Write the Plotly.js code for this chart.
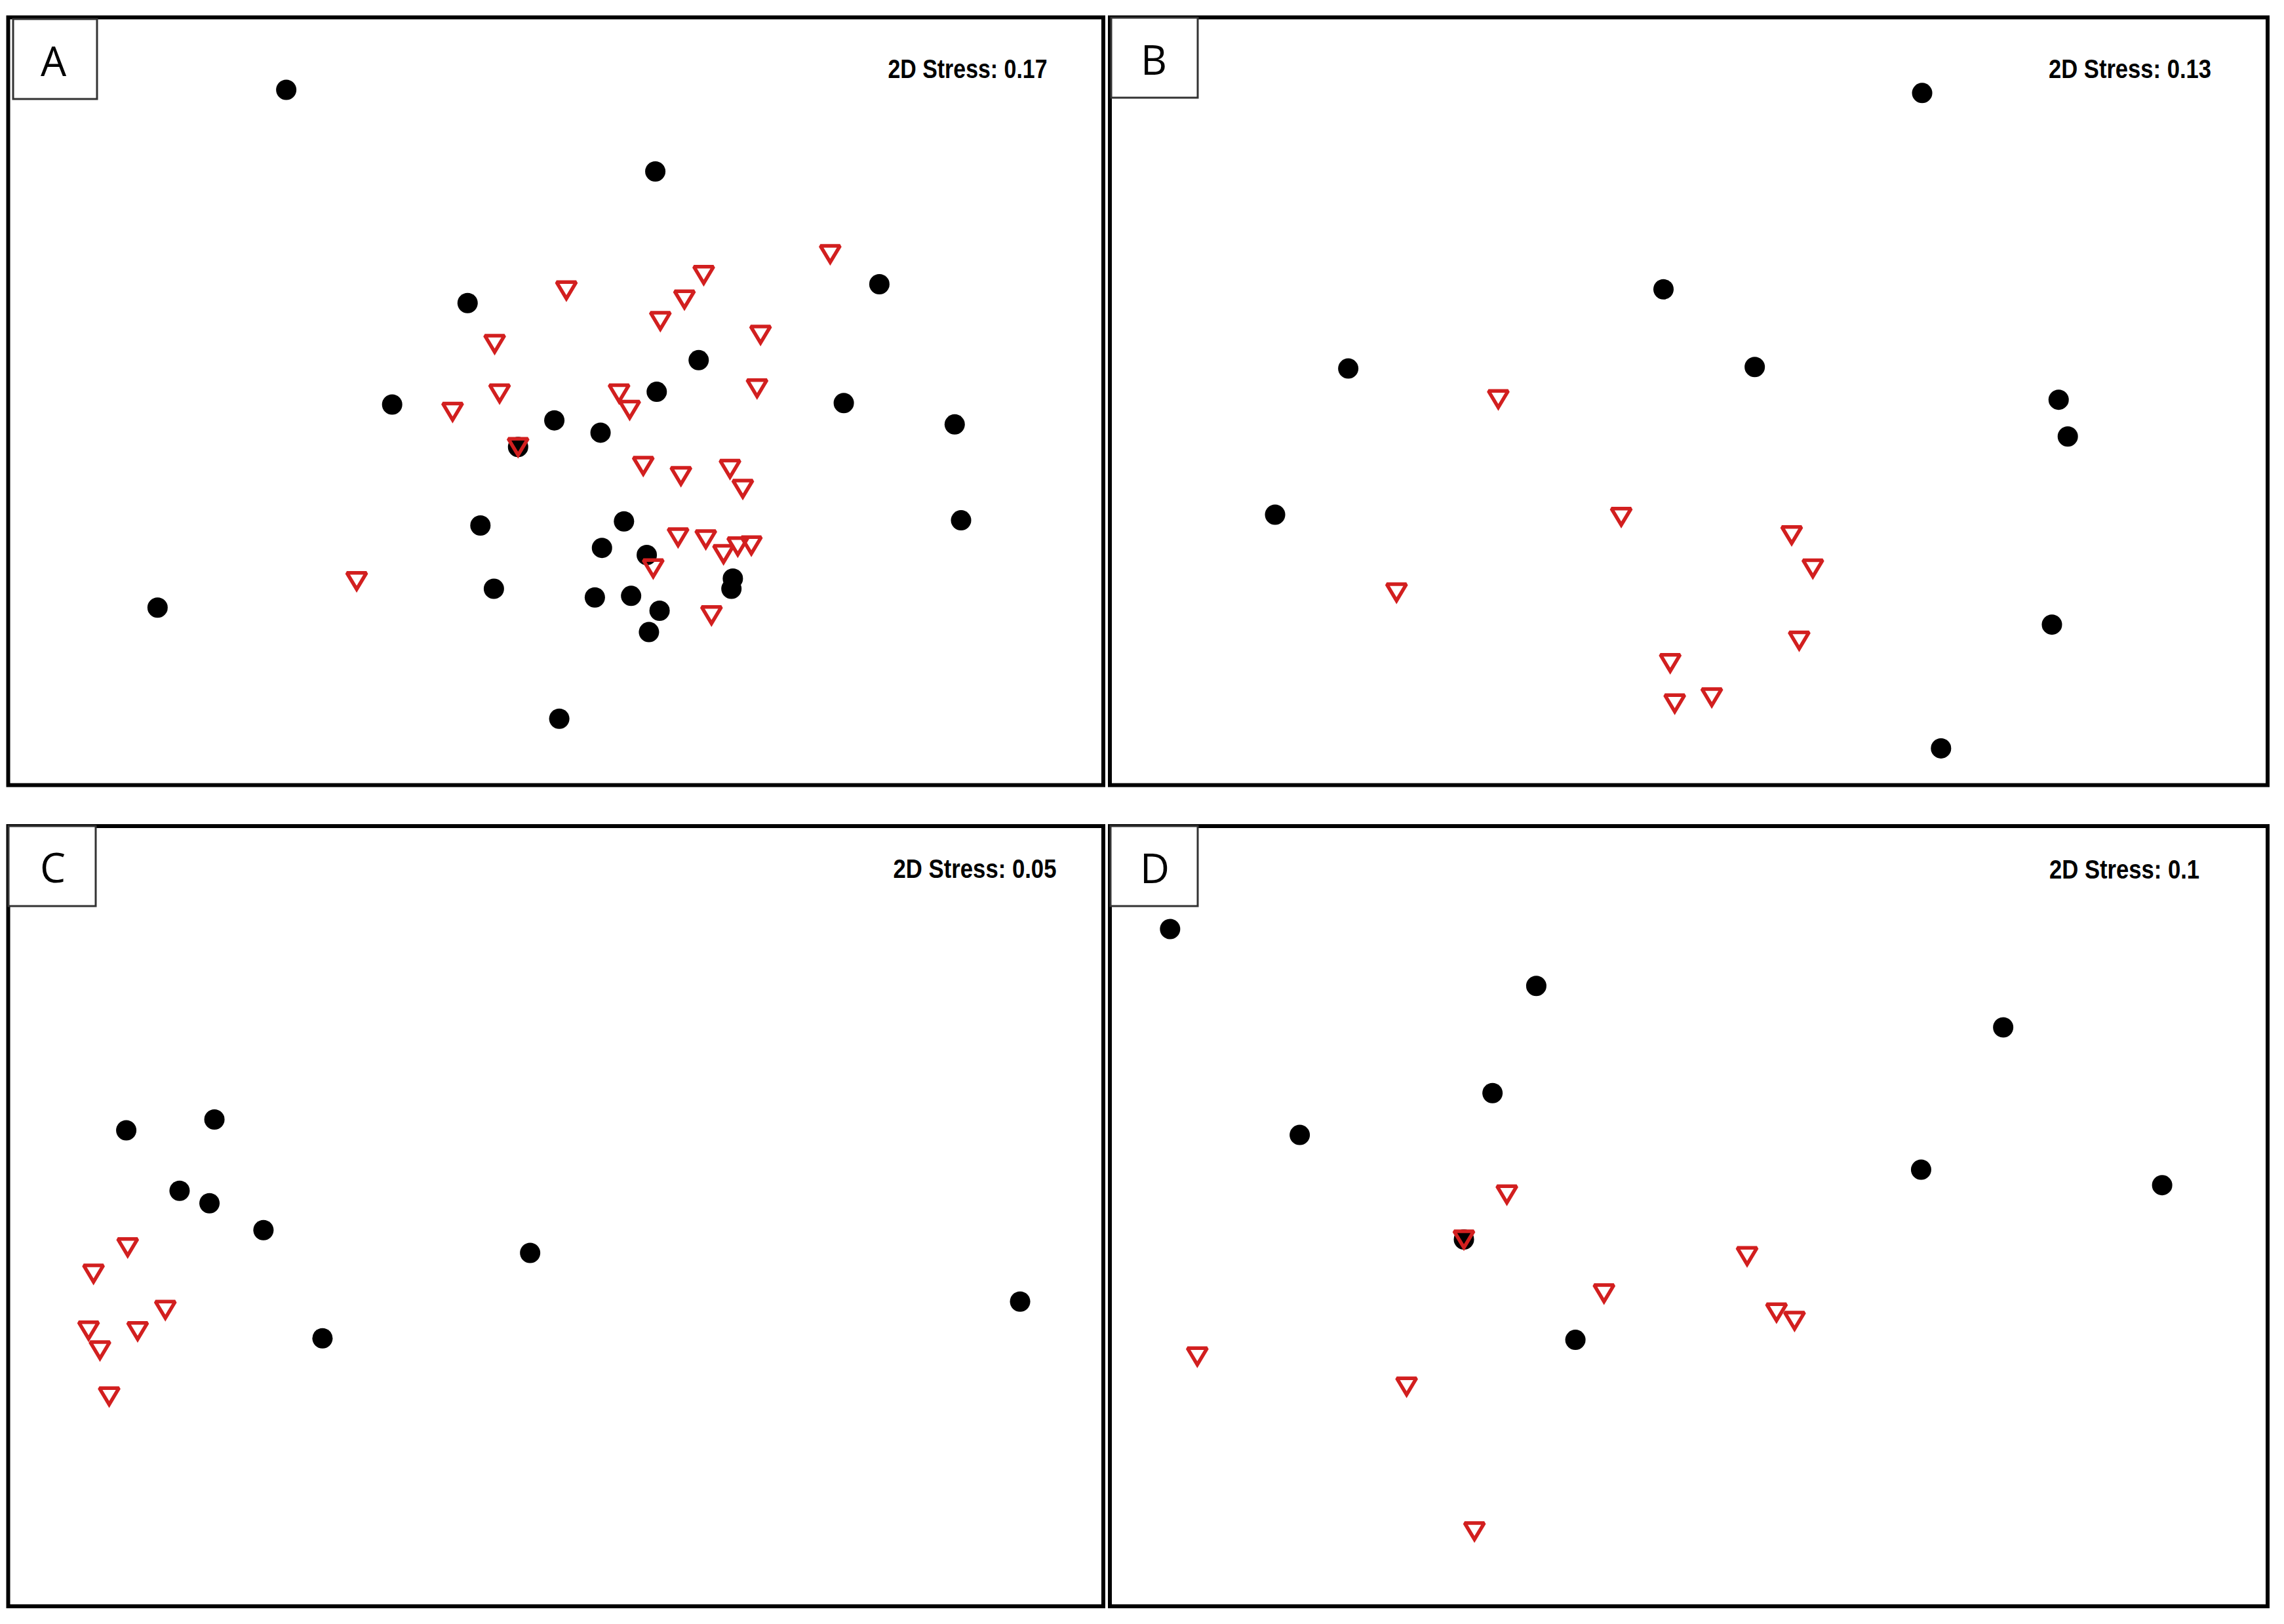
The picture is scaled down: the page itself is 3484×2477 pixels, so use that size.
<!DOCTYPE html>
<html>
<head>
<meta charset="utf-8">
<script src="https://cdn.plot.ly/plotly-3.0.1.min.js"></script>
<style>
html,body{margin:0;padding:0;background:#fff;}
#chart{width:3484px;height:2477px;}
</style>
</head>
<body>
<div id="chart"></div>
<script>
// ---- data (NMDS ordination positions, 0-100 scale per panel) ----
const panelLabels = ["A", "B", "C", "D"];
const stressValues = ["0.17", "0.13", "0.05", "0.1"];

const A_circle_x = [25.39, 59.09, 79.55, 41.95, 63.05, 59.22, 35.06, 76.30, 49.87, 54.09, 86.43, 46.56, 43.12, 56.23, 87.01, 54.22, 58.31, 66.17, 66.04, 44.35, 53.57, 56.88, 59.48, 58.51, 13.64, 50.32];
const A_circle_y = [90.56, 79.93, 65.25, 62.79, 55.35, 51.23, 49.57, 49.77, 47.51, 45.91, 46.98, 44.05, 33.82, 34.35, 34.49, 30.90, 29.97, 26.91, 25.58, 25.58, 24.45, 24.65, 22.72, 19.93, 23.12, 8.64];
const A_tri_x = [75.06, 63.51, 50.97, 61.75, 59.55, 68.70, 44.42, 44.87, 55.78, 68.38, 40.58, 56.75, 46.56, 57.99, 61.43, 65.91, 67.08, 61.17, 63.70, 65.32, 66.62, 67.86, 58.90, 31.82, 64.22];
const A_tri_y = [69.17, 66.45, 64.45, 63.26, 60.47, 58.67, 57.48, 51.03, 51.03, 51.69, 48.64, 48.90, 44.05, 41.59, 40.27, 41.20, 38.60, 32.29, 32.03, 30.10, 31.10, 31.23, 28.24, 26.58, 22.13];

const B_circle_x = [70.16, 47.82, 20.59, 55.70, 81.95, 82.74, 14.27, 81.37, 71.79];
const B_circle_y = [90.15, 64.58, 54.26, 54.46, 50.20, 45.41, 35.22, 20.91, 4.79];
const B_tri_x = [33.55, 44.17, 58.89, 60.72, 24.76, 59.54, 48.40, 51.99, 48.79];
const B_tri_y = [50.27, 34.95, 32.56, 28.23, 25.10, 18.84, 15.91, 11.45, 10.65];

const C_circle_x = [10.78, 18.83, 15.65, 18.38, 23.31, 47.66, 92.40, 28.70];
const C_circle_y = [61.01, 62.40, 53.25, 51.66, 48.21, 45.29, 39.06, 34.35];
const C_tri_x = [10.91, 7.79, 14.35, 7.34, 11.82, 8.38, 9.22];
const C_tri_y = [46.02, 42.64, 38.00, 35.35, 35.28, 32.82, 26.92];

const D_circle_x = [5.20, 36.83, 77.16, 33.05, 16.40, 70.07, 90.89, 30.58, 40.21];
const D_circle_y = [86.80, 79.51, 74.20, 65.78, 60.41, 55.97, 53.98, 47.02, 34.15];
const D_tri_x = [34.29, 30.58, 55.04, 42.68, 57.58, 59.14, 7.55, 25.63, 31.49];
const D_tri_y = [52.79, 47.02, 44.89, 40.12, 37.67, 36.60, 32.03, 28.18, 9.62];

// ---- layout geometry (pixels) ----
const W = 3484, H = 2477;
const px = v => v / W;
const py = v => 1 - v / H;

const frames = [
  {x0: 12.5, x1: 1683, y0: 26.5, y1: 1197.5},
  {x0: 1693, x1: 3459, y0: 26.5, y1: 1197.5},
  {x0: 12.5, x1: 1683, y0: 1260, y1: 2450},
  {x0: 1693, x1: 3459, y0: 1260, y1: 2450}
];
const labelBoxes = [
  {x0: 20, x1: 148, y0: 29, y1: 151},
  {x0: 1695, x1: 1827, y0: 27, y1: 149},
  {x0: 13, x1: 146, y0: 1260, y1: 1382},
  {x0: 1694, x1: 1827, y0: 1260, y1: 1382}
];
const labelPos = [{x: 82, y: 92}, {x: 1760, y: 90}, {x: 80, y: 1322}, {x: 1761, y: 1323}];
// centre x, centre y and drawn width of each stress text
const stressPos = [{x: 1476, y: 105, w: 243}, {x: 3249, y: 105, w: 248}, {x: 1487, y: 1325, w: 249}, {x: 3240, y: 1326, w: 229}];

const circleX = [A_circle_x, B_circle_x, C_circle_x, D_circle_x];
const circleY = [A_circle_y, B_circle_y, C_circle_y, D_circle_y];
const triX = [A_tri_x, B_tri_x, C_tri_x, D_tri_x];
const triY = [A_tri_y, B_tri_y, C_tri_y, D_tri_y];

const traces = [];
const layout = {
  width: W, height: H,
  margin: {l: 0, r: 0, t: 0, b: 0, pad: 0},
  paper_bgcolor: "#ffffff",
  plot_bgcolor: "rgba(0,0,0,0)",
  showlegend: false,
  shapes: [],
  annotations: []
};

for (let i = 0; i < 4; i++) {
  const sfx = i === 0 ? "" : String(i + 1);
  const f = frames[i];
  const axBase = {
    range: [0, 100], showgrid: false, zeroline: false, showticklabels: false,
    ticks: "", showline: false, fixedrange: true
  };
  layout["xaxis" + sfx] = Object.assign({}, axBase, {domain: [px(f.x0), px(f.x1)], anchor: "y" + sfx});
  layout["yaxis" + sfx] = Object.assign({}, axBase, {domain: [py(f.y1), py(f.y0)], anchor: "x" + sfx});

  traces.push({
    type: "scatter", mode: "markers", name: "circle",
    x: circleX[i], y: circleY[i],
    xaxis: "x" + sfx, yaxis: "y" + sfx,
    marker: {symbol: "circle", size: 31, color: "#000000", line: {width: 0}},
    hoverinfo: "skip", cliponaxis: false
  });
  traces.push({
    type: "scatter", mode: "markers", name: "triangle",
    x: triX[i], y: triY[i],
    xaxis: "x" + sfx, yaxis: "y" + sfx,
    marker: {symbol: "triangle-down", size: 30, color: "rgba(255,255,255,0)", line: {width: 5.5, color: "#d21f1f"}},
    hoverinfo: "skip", cliponaxis: false
  });

  layout.shapes.push({
    type: "rect", xref: "paper", yref: "paper",
    x0: px(f.x0), x1: px(f.x1), y0: py(f.y1), y1: py(f.y0),
    line: {color: "#000000", width: 6}, fillcolor: "rgba(0,0,0,0)", layer: "above"
  });
  const b = labelBoxes[i];
  layout.shapes.push({
    type: "rect", xref: "paper", yref: "paper",
    x0: px(b.x0), x1: px(b.x1), y0: py(b.y1), y1: py(b.y0),
    line: {color: "#333333", width: 3}, fillcolor: "#ffffff", layer: "above"
  });
  layout.annotations.push({
    xref: "paper", yref: "paper", x: px(labelPos[i].x), y: py(labelPos[i].y),
    xanchor: "center", yanchor: "middle", showarrow: false,
    text: panelLabels[i],
    font: {family: "Open Sans, Liberation Sans, sans-serif", size: 62, color: "#000000"}
  });
  layout.annotations.push({
    xref: "paper", yref: "paper", x: px(stressPos[i].x), y: py(stressPos[i].y),
    xanchor: "center", yanchor: "middle", showarrow: false,
    text: "2D Stress: " + stressValues[i],
    font: {family: "Liberation Sans, Arial, sans-serif", size: 41, weight: "bold", color: "#000000"}
  });
}

Plotly.newPlot("chart", traces, layout, {staticPlot: true, displayModeBar: false}).then(function () {
  // condense the stress captions horizontally (the original uses a narrow bold face)
  document.querySelectorAll("#chart .annotation-text").forEach(function (el) {
    const t = el.textContent || "";
    if (t.indexOf("2D Stress") === 0) {
      const idx = stressValues.findIndex(v => t === "2D Stress: " + v);
      if (idx >= 0) {
        el.setAttribute("textLength", stressPos[idx].w);
        el.setAttribute("lengthAdjust", "spacingAndGlyphs");
      }
    }
  });
  // the original triangles are nearly equilateral: reshape the glyph around each marker's own origin
  const groups = document.querySelectorAll("#chart .scatterlayer .trace");
  groups.forEach(function (g, k) {
    if (k % 2 === 1) {
      g.querySelectorAll("path.point").forEach(function (p) {
        p.setAttribute("d", "M-15,-12.5H15L0,12.5Z");
      });
    }
  });
});
</script>
</body>
</html>
